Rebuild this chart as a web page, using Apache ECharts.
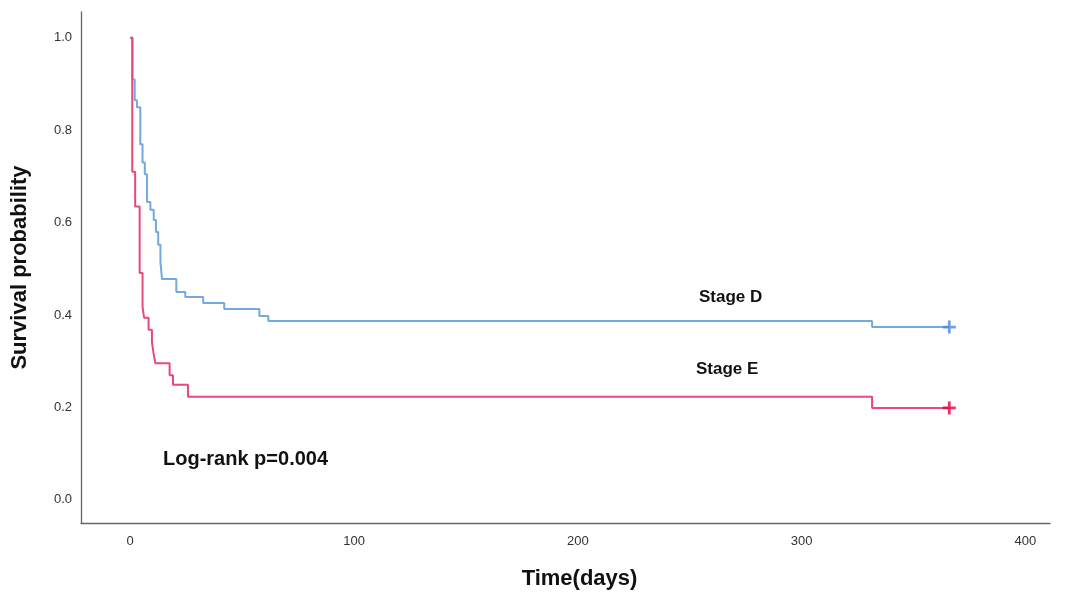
<!DOCTYPE html>
<html>
<head>
<meta charset="utf-8">
<script src="https://cdn.jsdelivr.net/npm/echarts@6/dist/echarts.min.js"></script>
<style>html,body{margin:0;padding:0;background:#fff}#c{width:1070px;height:598px}</style>
</head>
<body>
<div id="c"></div>
<script>
// Kaplan-Meier step points [day, survival after event]
const stageDTimes  = [0, 1, 2, 3, 4.5, 5.5, 6.5, 7.5, 9, 10.5, 11.5, 12.5, 13.5, 14.2, 20.6, 24.6, 32.6, 42, 57.7, 61.7, 331.5, 366];
const stageDValues = [1.0, 0.91, 0.865, 0.85, 0.77, 0.73, 0.705, 0.645, 0.628, 0.606, 0.58, 0.552, 0.515, 0.478, 0.45, 0.439, 0.426, 0.413, 0.398, 0.387, 0.374, 0.374];
const stageETimes  = [0, 0.9, 2.2, 4.2, 5.5, 6.2, 8.2, 9.7, 10.4, 11.2, 17.6, 19.1, 25.8, 331.5, 366];
const stageEValues = [1.0, 0.71, 0.635, 0.491, 0.418, 0.394, 0.368, 0.342, 0.318, 0.296, 0.27, 0.249, 0.223, 0.199, 0.199];
const censorD = [[366, 0.374]];
const censorE = [[366, 0.199]];
const xTicks = [0, 100, 200, 300, 400];
const yTicks = [0, 0.2, 0.4, 0.6, 0.8, 1.0];

const zip = (a, b) => a.map((t, i) => [t, b[i]]);
const blue = '#74a9de', red = '#e84a78';
const plus = 'path://M5.5,0h3v5.5h5.5v3h-5.5v5.5h-3v-5.5h-5.5v-3h5.5z';
const FONT = '"Liberation Sans", Arial, sans-serif';

const chart = echarts.init(document.getElementById('c'), null, {renderer: 'canvas'});
chart.setOption({
  animation: false,
  backgroundColor: '#fff',
  grid: {left: 81, right: 20, top: 12, bottom: 75},
  xAxis: {
    type: 'value', min: -22, max: 411,
    name: 'Time(days)', nameLocation: 'middle', nameGap: 45,
    nameTextStyle: {fontFamily: FONT, fontWeight: 'bold', fontSize: 22, color: '#111', padding: [0, 0, 0, 28]},
    axisLine: {show: true, onZero: false, lineStyle: {color: '#666', width: 1.3}},
    axisTick: {show: false},
    splitLine: {show: false},
    axisLabel: {customValues: xTicks, fontFamily: FONT, fontSize: 13, color: '#333', margin: 12}
  },
  yAxis: {
    type: 'value', min: -0.05, max: 1.056,
    name: 'Survival probability', nameLocation: 'middle', nameGap: 50, nameRotate: 90,
    nameTextStyle: {fontFamily: FONT, fontWeight: 'bold', fontSize: 22, color: '#111'},
    axisLine: {show: true, onZero: false, lineStyle: {color: '#666', width: 1.3}},
    axisTick: {show: false},
    splitLine: {show: false},
    axisLabel: {customValues: yTicks, fontFamily: FONT, fontSize: 13, color: '#333', margin: 9,
      formatter: v => v.toFixed(1)}
  },
  series: [
    {type: 'line', name: 'Stage D', step: 'end', data: zip(stageDTimes, stageDValues),
      symbol: 'none', lineStyle: {color: blue, width: 2}, z: 2},
    {type: 'line', name: 'Stage E', step: 'end', data: zip(stageETimes, stageEValues),
      symbol: 'none', lineStyle: {color: red, width: 2}, z: 3},
    {type: 'scatter', data: censorD, symbol: plus, symbolSize: 13, itemStyle: {color: '#4a86e0'}, z: 4},
    {type: 'scatter', data: censorE, symbol: plus, symbolSize: 13, itemStyle: {color: '#e0003c'}, z: 4}
  ],
  graphic: [
    {type: 'text', left: 699, top: 289, style: {text: 'Stage D', fontFamily: FONT, fontWeight: 'bold', fontSize: 17, fill: '#111'}},
    {type: 'text', left: 696, top: 361, style: {text: 'Stage E', fontFamily: FONT, fontWeight: 'bold', fontSize: 17, fill: '#111'}},
    {type: 'text', left: 163, top: 449, style: {text: 'Log-rank p=0.004', fontFamily: FONT, fontWeight: 'bold', fontSize: 20, fill: '#111'}}
  ]
});
</script>
</body>
</html>
